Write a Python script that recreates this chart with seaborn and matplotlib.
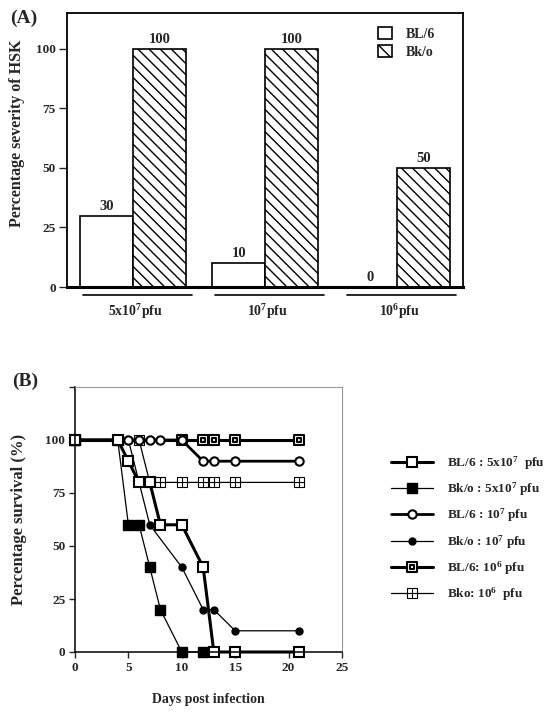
import numpy as np
import pandas as pd
import seaborn as sb
import matplotlib.pyplot as plt
from matplotlib.path import Path
from matplotlib.patches import Patch
from matplotlib.lines import Line2D

# ---- panel A data ----
doses = ["5x10$^7$pfu", "10$^7$pfu", "10$^6$pfu"]
strains = ["BL/6", "Bk/o"]
severity_bl6 = [30, 10, 0]
severity_bko = [100, 100, 50]

# ---- panel B data ----
bl6_5e7_day = [0, 4, 5, 6, 7, 8, 10, 12, 13, 15, 21]
bl6_5e7_surv = [100, 100, 90, 80, 80, 60, 60, 40, 0, 0, 0]
bko_5e7_day = [0, 4, 5, 6, 7, 8, 10, 12]
bko_5e7_surv = [100, 100, 60, 60, 40, 20, 0, 0]
bl6_1e7_day = [0, 5, 6, 7, 8, 10, 12, 13, 15, 21]
bl6_1e7_surv = [100, 100, 100, 100, 100, 100, 90, 90, 90, 90]
bko_1e7_day = [0, 5, 7, 10, 12, 13, 15, 21]
bko_1e7_surv = [100, 100, 60, 40, 20, 20, 10, 10]
bl6_1e6_day = [0, 10, 12, 13, 15, 21]
bl6_1e6_surv = [100, 100, 100, 100, 100, 100]
bko_1e6_day = [0, 6, 7, 8, 10, 12, 13, 15, 21]
bko_1e6_surv = [100, 100, 80, 80, 80, 80, 80, 80, 80]

sb.set_style("white")
plt.rcParams['font.family'] = ['Liberation Serif', 'DejaVu Serif']
plt.rcParams['font.weight'] = 'bold'
plt.rcParams['axes.labelweight'] = 'bold'
plt.rcParams['mathtext.fontset'] = 'custom'
plt.rcParams['mathtext.rm'] = 'Liberation Serif:bold'
plt.rcParams['mathtext.it'] = 'Liberation Serif:bold'
plt.rcParams['mathtext.bf'] = 'Liberation Serif:bold'
plt.rcParams['hatch.linewidth'] = 1.0

W, H = 544, 713
fig = plt.figure(figsize=(W / 100, H / 100), dpi=100)
axA = fig.add_axes([67 / W, 1 - 287 / H, (463 - 67) / W, (287 - 13) / H])
axB = fig.add_axes([75 / W, 1 - 652 / H, (342 - 75) / W, (652 - 387) / H])

# ================= panel A =================
df = pd.DataFrame({
    "dose": doses * 2,
    "strain": [strains[0]] * 3 + [strains[1]] * 3,
    "severity": severity_bl6 + severity_bko,
})
sb.barplot(data=df, x="dose", y="severity", hue="strain", palette=["white", "white"],
           edgecolor="black", linewidth=1.2, width=0.8, ax=axA, legend=False)
for bar in axA.containers[1]:
    bar.set_hatch("\\\\\\")
for cont in axA.containers:
    axA.bar_label(cont, fmt="%d", padding=2, fontsize=10.5, fontweight="bold")

axA.set_xlim(-0.5, 2.5)
axA.set_ylim(0, 115)
axA.set_yticks([0, 25, 50, 75, 100])
axA.tick_params(axis="y", direction="out", length=6, width=1, pad=2, labelsize=9.5, left=True)
axA.set_xticks([])
axA.set_xlabel("")
axA.set_ylabel("Percentage severity of HSK", fontsize=11.5)
axA.yaxis.set_label_coords(-0.107, 0.56)
for s in axA.spines.values():
    s.set_color("black")
    s.set_linewidth(1.3)
axA.spines["bottom"].set_linewidth(2.2)

# group underlines and labels below the axis
for i, lab in enumerate(doses):
    axA.plot([i - 0.38, i + 0.45], [-3.5, -3.5], color="black", lw=1.2,
             clip_on=False, transform=axA.transData)
    axA.text(i + 0.02, -10.5, lab, ha="center", va="center", fontsize=10,
             fontweight="bold", clip_on=False)

legA = axA.legend(handles=[Patch(facecolor="white", edgecolor="black", lw=1.2),
                           Patch(facecolor="white", edgecolor="black", lw=1.2, hatch="\\\\")],
                  labels=strains, loc="upper right", bbox_to_anchor=(0.96, 0.995),
                  frameon=False, handlelength=1.0, handleheight=1.0,
                  handletextpad=1.0, labelspacing=0.3, fontsize=10)
fig.text(10 / W, 1 - 18 / H, "(A)", fontsize=14, fontweight="bold", va="center")

# ================= panel B =================
box_cross = Path([(-1, -1), (1, -1), (1, 1), (-1, 1), (-1, -1),
                  (0, -1), (0, 1), (-1, 0), (1, 0)],
                 [Path.MOVETO, Path.LINETO, Path.LINETO, Path.LINETO, Path.CLOSEPOLY,
                  Path.MOVETO, Path.LINETO, Path.MOVETO, Path.LINETO])
box_box = Path([(-1, -1), (1, -1), (1, 1), (-1, 1), (-1, -1),
                (-0.5, -0.5), (0.45, -0.5), (0.45, 0.45), (-0.5, 0.45), (-0.5, -0.5)],
               [Path.MOVETO, Path.LINETO, Path.LINETO, Path.LINETO, Path.CLOSEPOLY,
                Path.MOVETO, Path.LINETO, Path.LINETO, Path.LINETO, Path.CLOSEPOLY])

series = [
    (bko_1e6_day, bko_1e6_surv, "Bko: 10$^6$  pfu", box_cross, 0.9, 6.5, "white", 0.8),
    (bl6_1e6_day, bl6_1e6_surv, "BL/6: 10$^6$ pfu", box_box, 2.2, 7, "white", 1.5),
    (bko_1e7_day, bko_1e7_surv, "Bk/o : 10$^7$ pfu", "o", 0.9, 5, "black", 1.0),
    (bko_5e7_day, bko_5e7_surv, "Bk/o : 5x10$^7$ pfu", "s", 0.9, 7, "black", 1.0),
    (bl6_1e7_day, bl6_1e7_surv, "BL/6 : 10$^7$ pfu", "o", 2.0, 6, "white", 1.5),
    (bl6_5e7_day, bl6_5e7_surv, "BL/6 : 5x10$^7$  pfu", "s", 2.2, 7, "white", 1.5),
]
handles = {}
for day, surv, lab, mk, lw, ms, fc, mew in series:
    sb.lineplot(x=day, y=surv, ax=axB, color="black", lw=lw, marker=mk, ms=ms,
                mfc=fc, mec="black", mew=mew, estimator=None, clip_on=False)
    handles[lab] = Line2D([], [], color="black", lw=lw, marker=mk, ms=ms,
                          mfc=fc, mec="black", mew=mew)

order = ["BL/6 : 5x10$^7$  pfu", "Bk/o : 5x10$^7$ pfu", "BL/6 : 10$^7$ pfu",
         "Bk/o : 10$^7$ pfu", "BL/6: 10$^6$ pfu", "Bko: 10$^6$  pfu"]
axB.legend(handles=[handles[k] for k in order], labels=order, loc="upper left",
           bbox_to_anchor=(1.14, 0.79), frameon=False, handlelength=3.2,
           handletextpad=1.0, labelspacing=0.65, fontsize=9.5)

axB.set_xlim(0, 25)
axB.set_ylim(0, 125)
axB.set_xticks([0, 5, 10, 15, 20, 25])
axB.set_yticks([0, 25, 50, 75, 100, 125])
axB.set_yticklabels(["0", "25", "50", "75", "100", ""])
axB.tick_params(direction="out", length=4, width=1, pad=3, labelsize=9.5,
                left=True, bottom=True)
axB.set_xlabel("Days post infection", fontsize=10, labelpad=14)
axB.set_ylabel("Percentage survival (%)", fontsize=12)
axB.yaxis.set_label_coords(-0.18, 0.5)
for k in ["left", "bottom"]:
    axB.spines[k].set_color("black")
    axB.spines[k].set_linewidth(1.1)
for k in ["top", "right"]:
    axB.spines[k].set_color("#999999")
    axB.spines[k].set_linewidth(0.8)
fig.text(12 / W, 1 - 381 / H, "(B)", fontsize=14, fontweight="bold", va="center")

fig.savefig("out.png", dpi=100)
